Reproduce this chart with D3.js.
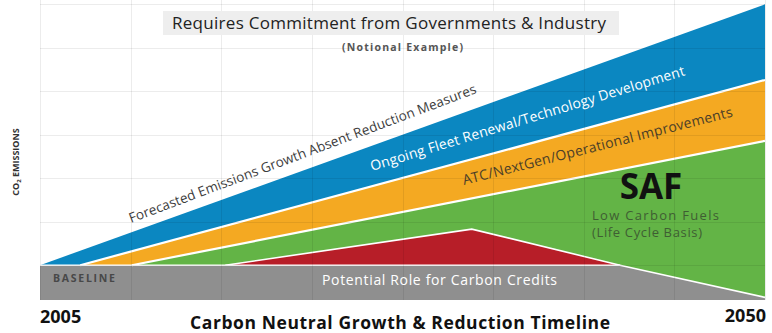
<!DOCTYPE html>
<html>
<head>
<meta charset="utf-8">
<script src="https://cdn.jsdelivr.net/npm/d3@7/dist/d3.min.js"></script>
<style>
  html, body { margin: 0; padding: 0; background: #fff; }
  svg { display: block; font-family: "Open Sans", "Noto Sans", sans-serif; }
</style>
</head>
<body>
<svg id="chart" width="772" height="333"></svg>
<script>
// Notional CO2 emissions wedges, 2005-2050 (0 = 2005 baseline level)
const forecastYears  = [2005, 2050];
const forecastValues = [0, 6.0];          // growth absent reduction measures
const fleetYears     = [2007.5, 2050];
const fleetValues    = [0, 4.26];         // after fleet renewal / technology
const opsYears       = [2010.7, 2050];
const opsValues      = [0, 2.86];         // after ATC / NextGen / operations
const creditYears    = [2016.5, 2031.8, 2041];
const creditValues   = [0, 0.83, 0];      // potential role for carbon credits
const baseYears      = [2005, 2041, 2050];
const baseValues     = [0, 0, -0.74];     // top of the baseline band
const floorValue     = -0.8;

const gridValues = [0, 1, 2, 3, 4, 5, 6];
const gridSteps  = 8;                      // vertical grid divisions across the timeline
const startLabel = "2005";
const endLabel   = "2050";

const svg = d3.select("#chart");
const x = d3.scaleLinear().domain([2005, 2050]).range([40, 765]);
const y = d3.scaleLinear().domain([floorValue, 6]).range([300, 4.3]);

const pts = (ys, vs) => ys.map((yr, i) => [yr, vs[i]]);

function band(points, base, fill) {
  const area = d3.area()
    .x(d => x(d[0]))
    .y1(d => y(d[1]))
    .y0(y(base));
  svg.append("path").datum(points).attr("d", area).attr("fill", fill);
}
function edge(points, width) {
  const line = d3.line().x(d => x(d[0])).y(d => y(d[1]));
  svg.append("path").datum(points).attr("d", line)
    .attr("fill", "none").attr("stroke", "#fff").attr("stroke-width", width);
}

band(pts(forecastYears, forecastValues), floorValue, "#0b87c1");
band(pts(fleetYears, fleetValues), floorValue, "#f4a922");
band(pts(opsYears, opsValues), floorValue, "#63b446");
band(pts(creditYears, creditValues), 0, "#b71e28");
band(pts(baseYears, baseValues), floorValue, "#8f8f8f");

edge(pts(fleetYears, fleetValues), 2.2);
edge(pts(opsYears, opsValues), 2.2);
edge(pts(creditYears, creditValues), 1.6);
edge(pts(baseYears, baseValues), 1.6);

// faint grid drawn over the bands
const grid = svg.append("g").attr("stroke", "rgba(0,0,0,0.075)").attr("stroke-width", 1);
d3.range(gridSteps + 1).forEach(k => {
  const gx = Math.round(x(2005 + k * 45 / gridSteps)) + 0.5;
  grid.append("line").attr("x1", gx).attr("x2", gx).attr("y1", 0).attr("y2", y(floorValue));
});
gridValues.forEach(v => {
  const gy = Math.round(y(v)) + 0.5;
  grid.append("line").attr("x1", x(2005)).attr("x2", x(2050)).attr("y1", gy).attr("y2", gy);
});

function label(opts) {
  const t = svg.append("text")
    .attr("font-size", opts.size)
    .attr("fill", opts.fill || "#111")
    .attr("font-weight", opts.bold ? "bold" : null)
    .text(opts.text);
  if (opts.rotate !== undefined) {
    t.attr("transform", `translate(${opts.x},${opts.y}) rotate(${opts.rotate})`);
  } else {
    t.attr("x", opts.x).attr("y", opts.y);
  }
  if (opts.anchor) t.attr("text-anchor", opts.anchor);
  if (opts.length) t.attr("textLength", opts.length).attr("lengthAdjust", "spacing");
  return t;
}

// heading box
svg.append("rect").attr("x", 163).attr("y", 11).attr("width", 456).attr("height", 24).attr("fill", "#eeeeee");
label({ text: "Requires Commitment from Governments & Industry", x: 172, y: 29, size: 17, fill: "#222", length: 434 });
label({ text: "(Notional Example)", x: 342, y: 50.5, size: 10.5, bold: true, fill: "#555", length: 121 });

// labels along the wedges
label({ text: "Forecasted Emissions Growth Absent Reduction Measures", x: 131, y: 223, rotate: -20.6,
        size: 13.5, fill: "#3c3c3c", length: 370 });
label({ text: "Ongoing Fleet Renewal/Technology Development", x: 372, y: 171, rotate: -17.0,
        size: 14, fill: "#ffffff", length: 328 });
label({ text: "ATC/NextGen/Operational Improvements", x: 464, y: 185, rotate: -14.3,
        size: 14, fill: "#4b3e28", length: 278 });

label({ text: "SAF", x: 651, y: 199, size: 35, bold: true, fill: "#111", anchor: "middle" });
label({ text: "Low Carbon Fuels", x: 592, y: 220, size: 13, fill: "#3f5e33", length: 127 });
label({ text: "(Life Cycle Basis)", x: 592, y: 237, size: 13, fill: "#3f5e33", length: 110 });

label({ text: "BASELINE", x: 53, y: 282, size: 10.5, bold: true, fill: "#484848", length: 62 });
label({ text: "Potential Role for Carbon Credits", x: 322, y: 285, size: 14, fill: "#ffffff", length: 235 });

// axis captions
label({ text: startLabel, x: 40, y: 323, size: 18, bold: true });
label({ text: endLabel, x: 766, y: 322, size: 18, bold: true, anchor: "end" });
label({ text: "Carbon Neutral Growth & Reduction Timeline", x: 190, y: 329, size: 17.5, bold: true, length: 420 });

const yl = svg.append("text").attr("transform", "translate(19,162) rotate(-90)")
  .attr("text-anchor", "middle").attr("font-size", 9).attr("font-weight", "bold").attr("fill", "#333");
yl.append("tspan").text("CO");
yl.append("tspan").attr("font-size", 6).attr("dy", 2).text("2");
yl.append("tspan").attr("dy", -2).text(" EMISSIONS");
</script>
</body>
</html>
